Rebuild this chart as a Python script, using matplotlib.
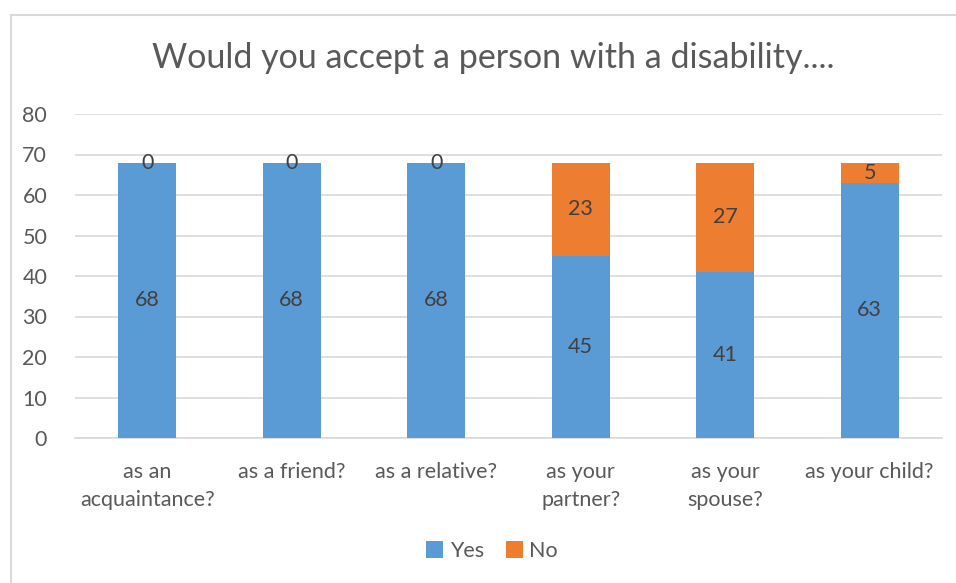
import matplotlib.pyplot as plt
import numpy as np
from matplotlib.patches import Rectangle

plt.rcParams['font.family'] = ['Lato', 'DejaVu Sans']

categories = ['as an\nacquaintance?', 'as a friend?', 'as a relative?',
              'as your\npartner?', 'as your\nspouse?', 'as your child?']
yes = [68, 68, 68, 45, 41, 63]
no = [0, 0, 0, 23, 27, 5]

blue = '#5B9BD5'
orange = '#ED7D31'
txt = '#595959'
fs = 15.5

fig = plt.figure(figsize=(9.56, 5.83), dpi=100)
fig.patches.append(Rectangle((11 / 956, -0.1), 1.2, 1 - 15 / 583 + 0.1,
                             transform=fig.transFigure, fill=False,
                             edgecolor='#D9D9D9', linewidth=1.5))
ax = fig.add_axes([75 / 956, 1 - 438 / 583, (942 - 75) / 956, (438 - 114) / 583])

x = np.arange(len(categories))
b1 = ax.bar(x, yes, width=0.4, color=blue, label='Yes', zorder=3)
b2 = ax.bar(x, no, width=0.4, bottom=yes, color=orange, label='No', zorder=3)

for i in range(len(x)):
    ax.text(x[i], yes[i] / 2, str(yes[i]), ha='center', va='center',
            fontsize=fs, color='#404040', zorder=4)
    ax.text(x[i], yes[i] + no[i] / 2, str(no[i]), ha='center', va='center',
            fontsize=fs, color='#404040', zorder=4)

ax.set_xlim(-0.5, len(categories) - 0.5)
ax.set_ylim(0, 80)
ax.set_yticks(range(0, 81, 10))
ax.set_xticks(x)
ax.set_xticklabels(categories, fontsize=fs, color=txt, linespacing=1.55)
ax.tick_params(axis='y', labelsize=fs, labelcolor=txt, length=0, pad=20)
ax.tick_params(axis='x', length=0, pad=17)
ax.grid(axis='y', color='#D9D9D9', linewidth=1.2, zorder=0)
for s in ['top', 'right', 'left']:
    ax.spines[s].set_visible(False)
ax.spines['bottom'].set_color('#D9D9D9')
ax.spines['bottom'].set_linewidth(1.2)

fig.text(493 / 956, 1 - 58 / 583, 'Would you accept a person with a disability....',
         ha='center', va='center', fontsize=24.5, color=txt)

fig.legend(handles=[b1, b2], loc='center', bbox_to_anchor=(492 / 956, 1 - 551 / 583),
           ncol=2, frameon=False, fontsize=fs, labelcolor=txt,
           handlelength=0.8, handleheight=0.8, handletextpad=0.3, columnspacing=1.0)

fig.savefig('out.png', dpi=100)
